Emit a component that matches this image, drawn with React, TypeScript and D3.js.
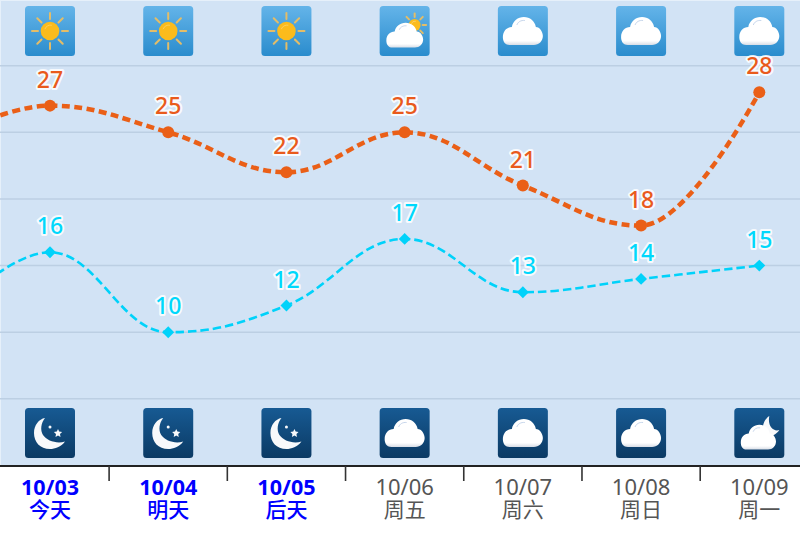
import React from 'react';
import * as d3 from 'd3';

const dates = ['10/03', '10/04', '10/05', '10/06', '10/07', '10/08', '10/09'];
const weekdays = ['今天', '明天', '后天', '周五', '周六', '周日', '周一'];
const highs = [27, 25, 22, 25, 21, 18, 28];
const lows = [16, 10, 12, 17, 13, 14, 15];
const prevHigh = 24;
const prevLow = 10;
const dayIcons = ['sun', 'sun', 'sun', 'partly', 'cloud', 'cloud', 'cloud'];
const nightIcons = ['moon', 'moon', 'moon', 'cloud', 'cloud', 'cloud', 'cloudmoon'];
const yTicks = [5, 10, 15, 20, 25, 30];

const W = 800, H = 536;
const x = d3.scaleLinear().domain([0, 6]).range([50, 759.3]);
const y = d3.scaleLinear().domain([0, 35]).range([465.5, -1]);
const tickIdx = d3.range(0, 6);

// Spline with 1.5 smoothing, flattened at local extremes
function splinePath(pts: [number, number][]) {
  const p = d3.path();
  const s = 1.5, d = s + 1;
  const conts = pts.map((pt, i) => {
    if (i === 0 || i === pts.length - 1) return { lx: pt[0], ly: pt[1], rx: pt[0], ry: pt[1] };
    const [px, py] = pts[i - 1], [cx, cy] = pt, [nx, ny] = pts[i + 1];
    const lx = (s * cx + px) / d;
    let ly = (s * cy + py) / d;
    const rx = (s * cx + nx) / d;
    let ry = (s * cy + ny) / d;
    const corr = ((ry - ly) * (rx - cx)) / (rx - lx) + cy - ry;
    ly += corr; ry += corr;
    if (ly > py && ly > cy) { ly = Math.max(py, cy); ry = 2 * cy - ly; }
    else if (ly < py && ly < cy) { ly = Math.min(py, cy); ry = 2 * cy - ly; }
    if (ry > ny && ry > cy) { ry = Math.max(ny, cy); ly = 2 * cy - ry; }
    else if (ry < ny && ry < cy) { ry = Math.min(ny, cy); ly = 2 * cy - ry; }
    return { lx, ly, rx, ry };
  });
  pts.forEach((pt, i) => {
    if (i === 0) p.moveTo(pt[0], pt[1]);
    else p.bezierCurveTo(conts[i - 1].rx, conts[i - 1].ry, conts[i].lx, conts[i].ly, pt[0], pt[1]);
  });
  return p.toString();
}

const seriesPts = (prev: number, vals: number[]): [number, number][] =>
  [[x(-1), y(prev)] as [number, number], ...vals.map((v, i) => [x(i), y(v)] as [number, number])];

const Sun = ({ cx, cy, r, len, inner }: { cx: number; cy: number; r: number; len: number; inner: number }) => (
  <g>
    {d3.range(8).map(i => {
      const a = (i * Math.PI) / 4;
      return (
        <line key={i} x1={cx + Math.cos(a) * inner} y1={cy + Math.sin(a) * inner}
          x2={cx + Math.cos(a) * (inner + len)} y2={cy + Math.sin(a) * (inner + len)}
          stroke="#e3bd68" strokeWidth={2} strokeLinecap="round" />
      );
    })}
    <circle cx={cx} cy={cy} r={r} fill="#fbbb1c" />
    <path d={`M${cx - r * 0.55} ${cy - r * 0.2}A${r * 0.65} ${r * 0.65} 0 0 1 ${cx + r * 0.2} ${cy - r * 0.62}`} fill="none" stroke="#fdd675" strokeWidth={0.7} />
  </g>
);

const Cloud = ({ dx, dy, kx, ky }: { dx: number; dy: number; kx: number; ky: number }) => (
  <g transform={`translate(${dx},${dy}) scale(${kx},${ky})`}>
    <path d="M12 39 C6 39 5 34 5 31 C5 25 9 21 14 21 C15 15 20 11 26 11 C32 11 37 15 38 21 C42 21 45 26 45 30 C45 35 41 39 36 39 Z"
      fill="url(#cloudFill)" />
    <path d="M19 19 C20 16 23 14 27 14.5" fill="none" stroke="#b9cbe6" strokeWidth={0.8} />
  </g>
);

const Icon = ({ kind, px, py, night }: { kind: string; px: number; py: number; night: boolean }) => (
  <g transform={`translate(${px - 25},${py})`}>
    <rect width={50} height={50} rx={3.5} fill={night ? 'url(#nightBg)' : 'url(#dayBg)'} />
    {kind === 'sun' && <Sun cx={25} cy={25} r={9.3} len={6} inner={12} />}
    {kind === 'partly' && (
      <>
        <Sun cx={35} cy={19} r={6} len={3.5} inner={8} />
        <Cloud dx={2.1} dy={6.9} kx={0.92} ky={0.89} />
      </>
    )}
    {kind === 'cloud' && <Cloud dx={0} dy={0} kx={1} ky={1} />}
    {kind === 'moon' && (
      <>
        <path d="M20 10 C16 15 15 22 18 27 C22 33 32 36 40 33.5 C36 39 30 41 25 41 C15 41 9 34 9 25 C9 17 14 11 20 10Z" fill="#f8f9fb" />
        <circle cx={25} cy={19} r={1.5} fill="#f8f9fb" />
        <path d="M33 21l1.2 2.6 2.9.4-2.1 2 .5 2.9-2.5-1.4-2.5 1.4.5-2.9-2.1-2 2.9-.4z" fill="#f8f9fb" />
      </>
    )}
    {kind === 'cloudmoon' && (
      <>
        <path d="M35 8 C29 12 27 20 30 26 C35 30 42 27 45 22 C39 24 33 18 35 8Z" fill="#f8f9fb" />
        <Cloud dx={2.1} dy={6.9} kx={0.88} ky={0.89} />
      </>
    )}
  </g>
);

const Labels = ({ vals, color, off }: { vals: number[]; color: string; off: number }) => (
  <g fontFamily="'Noto Sans', sans-serif" fontSize={23} fontWeight={500} textAnchor="middle">
    {vals.map((v, i) => (
      <text key={i} x={x(i)} y={y(v) - off} fill={color} stroke="#ffffff" strokeOpacity={0.85} strokeWidth={4} strokeLinejoin="round" paintOrder="stroke">{v}</text>
    ))}
  </g>
);

export default function App() {
  const hi = splinePath(seriesPts(prevHigh, highs));
  const lo = splinePath(seriesPts(prevLow, lows));
  return (
    <div style={{ position: 'absolute', left: 0, top: 0, width: W, height: H, background: '#fff' }}>
      <svg width={W} height={H} style={{ display: 'block' }}>
        <defs>
          <linearGradient id="dayBg" x1="0" y1="0" x2="0" y2="1">
            <stop offset="0" stopColor="#64b4e9" />
            <stop offset="1" stopColor="#2a8ccd" />
          </linearGradient>
          <linearGradient id="nightBg" x1="0" y1="0" x2="0" y2="1">
            <stop offset="0" stopColor="#175a93" />
            <stop offset="1" stopColor="#0b3a64" />
          </linearGradient>
          <linearGradient id="cloudFill" x1="0" y1="0" x2="0" y2="1">
            <stop offset="0" stopColor="#ffffff" />
            <stop offset="0.85" stopColor="#ffffff" />
            <stop offset="1" stopColor="#d8dde6" />
          </linearGradient>
          <clipPath id="plot"><rect x={0} y={0} width={W} height={465} /></clipPath>
        </defs>
        <rect x={0} y={0} width={W} height={465} fill="#d2e3f5" />
        <rect x={0.5} y={0.5} width={W} height={465} fill="none" stroke="#e6f0fa" />
        {yTicks.map(t => (
          <line key={t} x1={0} x2={W} y1={y(t)} y2={y(t)} stroke="#bccfe3" strokeWidth={1.5} />
        ))}
        {dayIcons.map((k, i) => <Icon key={i} kind={k} px={x(i)} py={6} night={false} />)}
        {nightIcons.map((k, i) => <Icon key={i} kind={k} px={x(i)} py={408} night={true} />)}
        <g clipPath="url(#plot)">
          <path d={hi} fill="none" stroke="#ea5f17" strokeWidth={4.5} strokeDasharray="8 4.5" />
          <path d={lo} fill="none" stroke="#00d2fa" strokeWidth={2.6} strokeDasharray="8.5 4" />
          {highs.map((v, i) => <circle key={i} cx={x(i)} cy={y(v)} r={6} fill="#ea5f17" />)}
          {lows.map((v, i) => (
            <path key={i} transform={`translate(${x(i)},${y(v)})`} d={d3.symbol(d3.symbolDiamond2, 90)() as string} fill="#00d2fa" />
          ))}
        </g>
        <Labels vals={highs} color="#e95a1c" off={18} />
        <Labels vals={lows} color="#00d8fc" off={18} />
        <line x1={0} x2={W} y1={466} y2={466} stroke="#222" strokeWidth={2} />
        {tickIdx.map(i => (
          <line key={i} x1={x(i + 0.5)} x2={x(i + 0.5)} y1={466} y2={481} stroke="#333" strokeWidth={1.6} />
        ))}
        {dates.map((d, i) => {
          const soon = i < 3;
          return (
            <g key={d} textAnchor="middle" fill={soon ? '#0000ff' : '#555555'}
              fontFamily="'Noto Sans', 'Noto Sans CJK SC', sans-serif">
              <text x={x(i)} y={495} fontSize={soon ? 21.5 : 22} fontWeight={soon ? 700 : 400}>{d}</text>
              <text x={x(i)} y={517} fontSize={21} fontFamily="'Noto Sans CJK SC', sans-serif" fontWeight={soon ? 500 : 400}>{weekdays[i]}</text>
            </g>
          );
        })}
      </svg>
    </div>
  );
}
